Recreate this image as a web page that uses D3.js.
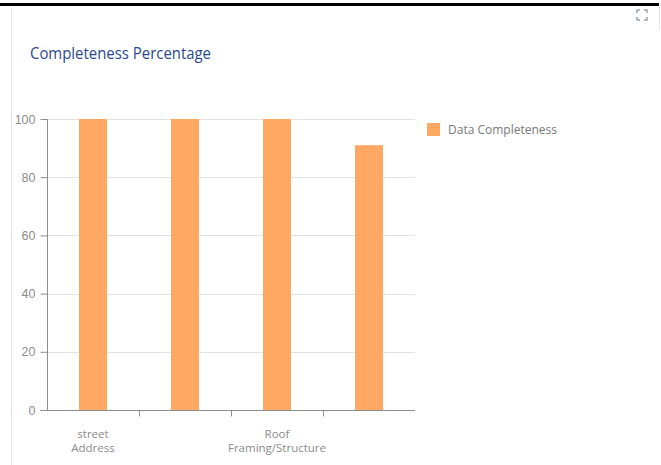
<!DOCTYPE html>
<html>
<head>
<meta charset="utf-8">
<script src="https://cdn.jsdelivr.net/npm/d3@7"></script>
<style>
  body { margin: 0; background: #fff; }
  svg { display: block; }
</style>
</head>
<body>
<div id="chart"></div>
<script>
// chart data
const categories = ["street Address", "Roof Covering", "Roof Framing/Structure", "Year Built"]
const completeness = [100, 100, 100, 91]
const yTicks = [0, 20, 40, 60, 80, 100]
const seriesName = "Data Completeness"
const chartTitle = "Completeness Percentage"

const WIDTH = 661
const HEIGHT = 465
const PLOT = {LEFT: 47, RIGHT: 415, TOP: 119, BOTTOM: 410}

let svg = d3.select("#chart").append("svg")
    .attr("width", WIDTH)
    .attr("height", HEIGHT)

// page heading cut off at the top of the screenshot
svg.append("text")
    .attr("x", 6).attr("y", -6)
    .style("font", "bold 26px 'Open Sans', sans-serif")
    .style("fill", "#1f3a6e")
    .text("Quality Rating (Completeness Score, Data Completeness)")
svg.append("rect")
    .attr("x", 0).attr("y", 3).attr("width", 659).attr("height", 3)
    .style("fill", "#000")

// card borders
svg.append("line")
    .attr("x1", 11.5).attr("x2", 11.5).attr("y1", 7).attr("y2", HEIGHT)
    .style("stroke", "#e6e6e6")
svg.append("line")
    .attr("x1", 659.5).attr("x2", 659.5).attr("y1", 7).attr("y2", 30)
    .style("stroke", "#e6e6e6")

// expand icon
const icon = svg.append("g").attr("transform", "translate(637,10)")
    .style("fill", "none").style("stroke", "#9aa3ad").style("stroke-width", 1.5)
icon.append("path").attr("d", "M0,3V0H3 M7,0H10V3 M10,7V10H7 M3,10H0V7")

// title
svg.append("text")
    .attr("x", 30).attr("y", 59)
    .style("font", "500 15.5px 'Open Sans', sans-serif")
    .style("fill", "#2a4a8c")
    .attr("textLength", 181)
    .attr("lengthAdjust", "spacingAndGlyphs")
    .text(chartTitle)

let xScale = d3.scaleBand()
    .domain(categories)
    .range([PLOT.LEFT, PLOT.RIGHT])

let yScale = d3.scaleLinear()
    .domain([0, 100])
    .range([PLOT.BOTTOM, PLOT.TOP])

// grid lines
svg.append("g")
    .selectAll("line")
    .data(yTicks.filter(d => d > 0))
    .enter()
    .append("line")
        .attr("x1", PLOT.LEFT).attr("x2", PLOT.RIGHT)
        .attr("y1", d => Math.round(yScale(d)) + 0.5)
        .attr("y2", d => Math.round(yScale(d)) + 0.5)
        .style("stroke", "#e3e3e3")

// bars
svg.append("g")
    .selectAll("rect")
    .data(categories)
    .enter()
    .append("rect")
        .attr("x", d => xScale(d) + xScale.bandwidth() / 2 - 14)
        .attr("width", 28)
        .attr("y", (d, i) => yScale(completeness[i]))
        .attr("height", (d, i) => PLOT.BOTTOM - yScale(completeness[i]))
        .style("fill", "#ffa864")

// y axis
let yAxis = svg.append("g")
    .attr("transform", "translate(" + (PLOT.LEFT + 0.5) + ",0)")
    .call(d3.axisLeft(yScale).tickValues(yTicks).tickSize(7).tickPadding(5))
yAxis.selectAll("path, line").style("stroke", "#8c8c8c")
yAxis.select(".domain").attr("d", "M0," + PLOT.TOP + "V" + PLOT.BOTTOM)
yAxis.selectAll("text")
    .style("font", "12.5px 'Liberation Sans', Arial, sans-serif")
    .style("fill", "#8c8c8c")

// x axis: ticks between bands
let xAxis = svg.append("g")
    .attr("transform", "translate(0," + (PLOT.BOTTOM + 0.5) + ")")
xAxis.append("line")
    .attr("x1", PLOT.LEFT - 7).attr("x2", PLOT.RIGHT)
    .style("stroke", "#8c8c8c")
xAxis.selectAll(".tick")
    .data(categories.slice(1))
    .enter()
    .append("line")
        .attr("x1", d => Math.round(xScale(d)) + 0.5)
        .attr("x2", d => Math.round(xScale(d)) + 0.5)
        .attr("y1", 0).attr("y2", 6)
        .style("stroke", "#8c8c8c")

// category labels (every other label shown, as in the original), two lines each
let labelLines = []
categories.forEach((d, i) => {
    if (i % 2 !== 0) return
    let words = d.split(" ")
    labelLines.push({cat: d, text: words[0], row: 0})
    labelLines.push({cat: d, text: words.slice(1).join(" "), row: 1})
})
xAxis.selectAll(".lbl")
    .data(labelLines)
    .enter()
    .append("text")
        .attr("text-anchor", "middle")
        .attr("x", d => xScale(d.cat) + xScale.bandwidth() / 2)
        .attr("y", d => 27 + d.row * 14)
        .style("font", "11.5px 'Open Sans', sans-serif")
        .style("fill", "#8c8c8c")
        .text(d => d.text)

// legend
let legend = svg.append("g").attr("transform", "translate(427,123)")
legend.append("rect")
    .attr("width", 13).attr("height", 13)
    .style("fill", "#ffa864")
legend.append("text")
    .attr("x", 21).attr("y", 11)
    .style("font", "12px 'Open Sans', sans-serif")
    .style("fill", "#7a7a7a")
    .text(seriesName)
</script>
</body>
</html>
